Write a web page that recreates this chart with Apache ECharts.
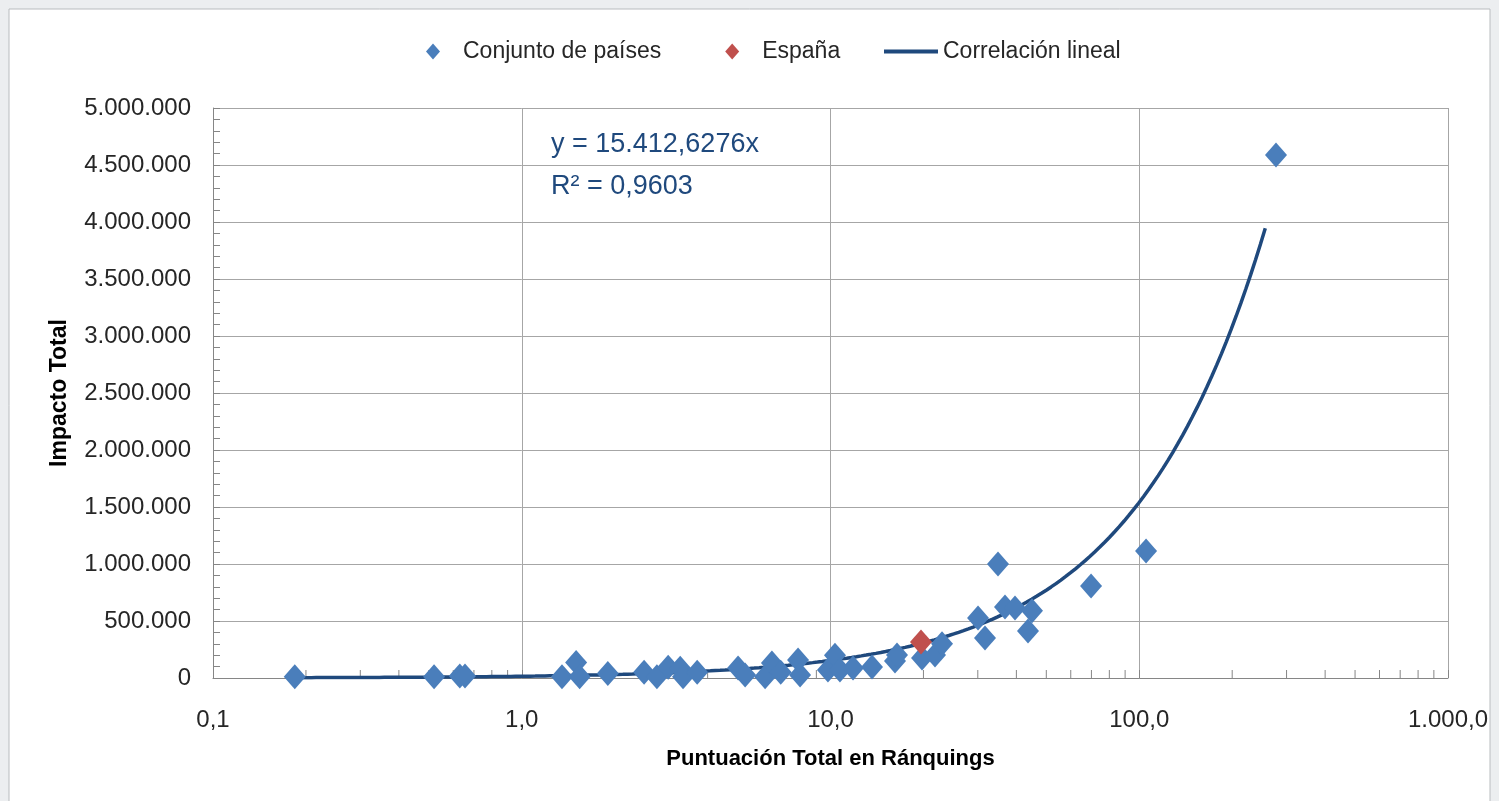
<!DOCTYPE html>
<html>
<head>
<meta charset="utf-8">
<script src="https://cdn.jsdelivr.net/npm/echarts@6/dist/echarts.min.js"></script>
<style>
html,body{margin:0;padding:0;background:#eceef0;}
#chart{width:1499px;height:801px;}
</style>
</head>
<body>
<div id="chart"></div>
<script>
// ---- Data ----
const countriesX = [0.184, 0.52, 0.63, 0.655, 1.35, 1.50, 1.54, 1.90, 2.49, 2.74, 2.98, 3.26, 3.33, 3.70,
  5.02, 5.29, 6.14, 6.46, 6.90, 7.85, 7.97, 9.81, 10.34, 10.73, 11.83, 13.63, 16.18, 16.42, 19.79,
  21.8, 22.97, 30.05, 31.65, 34.87, 36.74, 39.59, 43.62, 44.94, 69.8, 105.2, 277.3];
const countriesY = [10000, 12000, 18000, 18000, 10000, 135000, 10000, 40000, 50000, 10000, 95000, 85000, 10000, 50000,
  88000, 26000, 10000, 132000, 50000, 158000, 26000, 70000, 200000, 70000, 88000, 96000, 150000, 202000, 175000,
  202000, 300000, 526000, 351000, 1000000, 623000, 614000, 412000, 590000, 807000, 1114000, 4588000];
const spainX = [19.64];
const spainY = [316000];
const trendSlope = 15412.6276;      // y = 15.412,6276x
const trendR2 = '0,9603';
const trendStart = 0.18, trendEnd = 256;
const xTickLabels = {0.1: '0,1', 1: '1,0', 10: '10,0', 100: '100,0', 1000: '1.000,0'};
const xMinorTicks = [0.2,0.3,0.4,0.5,0.6,0.7,0.8,0.9, 2,3,4,5,6,7,8,9, 20,30,40,50,60,70,80,90, 200,300,400,500,600,700,800,900];
const seriesNames = ['Conjunto de países', 'España', 'Correlación lineal'];

// ---- Build series data ----
const countries = countriesX.map((x, i) => [x, countriesY[i]]);
const spain = spainX.map((x, i) => [x, spainY[i]]);
const trend = [];
const nSteps = 200;
for (let i = 0; i <= nSteps; i++) {
  const lx = Math.log10(trendStart) + (Math.log10(trendEnd) - Math.log10(trendStart)) * i / nSteps;
  const x = Math.pow(10, lx);
  trend.push([x, trendSlope * x]);
}
function thousands(v) {
  return String(Math.round(v)).replace(/\B(?=(\d{3})+(?!\d))/g, '.');
}
function fmtSlope(v) {
  const parts = v.toFixed(4).split('.');
  return thousands(Number(parts[0])) + ',' + parts[1];
}

const FONT = 'Liberation Sans, Arial, sans-serif';
const chart = echarts.init(document.getElementById('chart'), null, {renderer: 'canvas'});
chart.setOption({
  backgroundColor: '#eceef0',
  animation: false,
  textStyle: {fontFamily: FONT},
  graphic: [
    {type: 'rect', z: -10, shape: {x: 9, y: 9, width: 1481, height: 800},
     style: {fill: '#ffffff', stroke: '#b9bcbf', lineWidth: 1}},
    {type: 'text', left: 551, top: 124, z: 10,
     style: {text: 'y = ' + fmtSlope(trendSlope) + 'x\nR² = ' + trendR2, fill: '#1f497d',
             font: '27px ' + FONT, lineHeight: 42}}
  ],
  legend: [
    {data: [{name: seriesNames[0], icon: 'diamond'}, {name: seriesNames[1], icon: 'diamond'}],
     left: 426, top: 40, padding: 0, itemWidth: 14, itemHeight: 16, itemGap: 64,
     textStyle: {fontSize: 23, color: '#262626', padding: [0, 0, 0, 18], fontFamily: FONT}},
    {data: [{name: seriesNames[2], icon: 'rect'}], left: 884, top: 40, padding: 0, itemWidth: 54, itemHeight: 4,
     textStyle: {fontSize: 23, color: '#262626', fontFamily: FONT}}
  ],
  grid: {left: 213, right: 51, top: 108, bottom: 123, containLabel: false},
  xAxis: {
    type: 'log', logBase: 10, min: 0.1, max: 1000,
    name: 'Puntuación Total en Ránquings', nameLocation: 'middle', nameGap: 70,
    nameTextStyle: {fontSize: 22, fontWeight: 'bold', color: '#000', fontFamily: FONT},
    axisLine: {lineStyle: {color: '#868686', width: 1}},
    axisTick: {show: true, inside: true, length: 8, lineStyle: {color: '#868686'}},
    minorTick: {show: false},
    axisLabel: {fontSize: 24, color: '#262626', margin: 30, fontFamily: FONT,
      formatter: v => xTickLabels[Math.round(v * 10) / 10] || xTickLabels[v] || ''},
    splitLine: {show: true, lineStyle: {color: '#a6a6a6', width: 1}}
  },
  yAxis: {
    type: 'value', min: 0, max: 5000000, interval: 500000,
    name: 'Impacto Total', nameLocation: 'middle', nameGap: 142, nameRotate: 90,
    nameTextStyle: {fontSize: 23, fontWeight: 'bold', color: '#000', fontFamily: FONT},
    axisLine: {show: true, lineStyle: {color: '#868686', width: 1}},
    axisTick: {show: true, inside: true, length: 7, lineStyle: {color: '#868686'}},
    minorTick: {show: true, splitNumber: 5, length: 7, lineStyle: {color: '#868686'}},
    axisLabel: {fontSize: 24, color: '#262626', margin: 22, fontFamily: FONT, formatter: v => thousands(v)},
    splitLine: {show: true, lineStyle: {color: '#a6a6a6', width: 1}}
  },
  series: [
    {name: seriesNames[0], type: 'scatter', data: countries, symbol: 'diamond', symbolSize: [22, 25],
     symbolKeepAspect: true, itemStyle: {color: '#4a7ebb', opacity: 1}, z: 3},
    {name: seriesNames[1], type: 'scatter', data: spain, symbol: 'diamond', symbolSize: [22, 25],
     symbolKeepAspect: true, itemStyle: {color: '#c0504d', opacity: 1}, z: 4},
    {name: seriesNames[2], type: 'line', data: trend, showSymbol: false, symbol: 'none', smooth: false,
     lineStyle: {color: '#1f497d', width: 3.5}, itemStyle: {color: '#1f497d'}, z: 2},
    {name: 'xminor', type: 'custom', silent: true, z: 1, data: xMinorTicks.map(v => [v, 0]),
     renderItem: function (params, api) {
       const p = api.coord([api.value(0), 0]);
       return {type: 'line', shape: {x1: p[0], y1: p[1], x2: p[0], y2: p[1] - 8},
               style: {stroke: '#868686', lineWidth: 1}};
     }}
  ]
});
</script>
</body>
</html>
